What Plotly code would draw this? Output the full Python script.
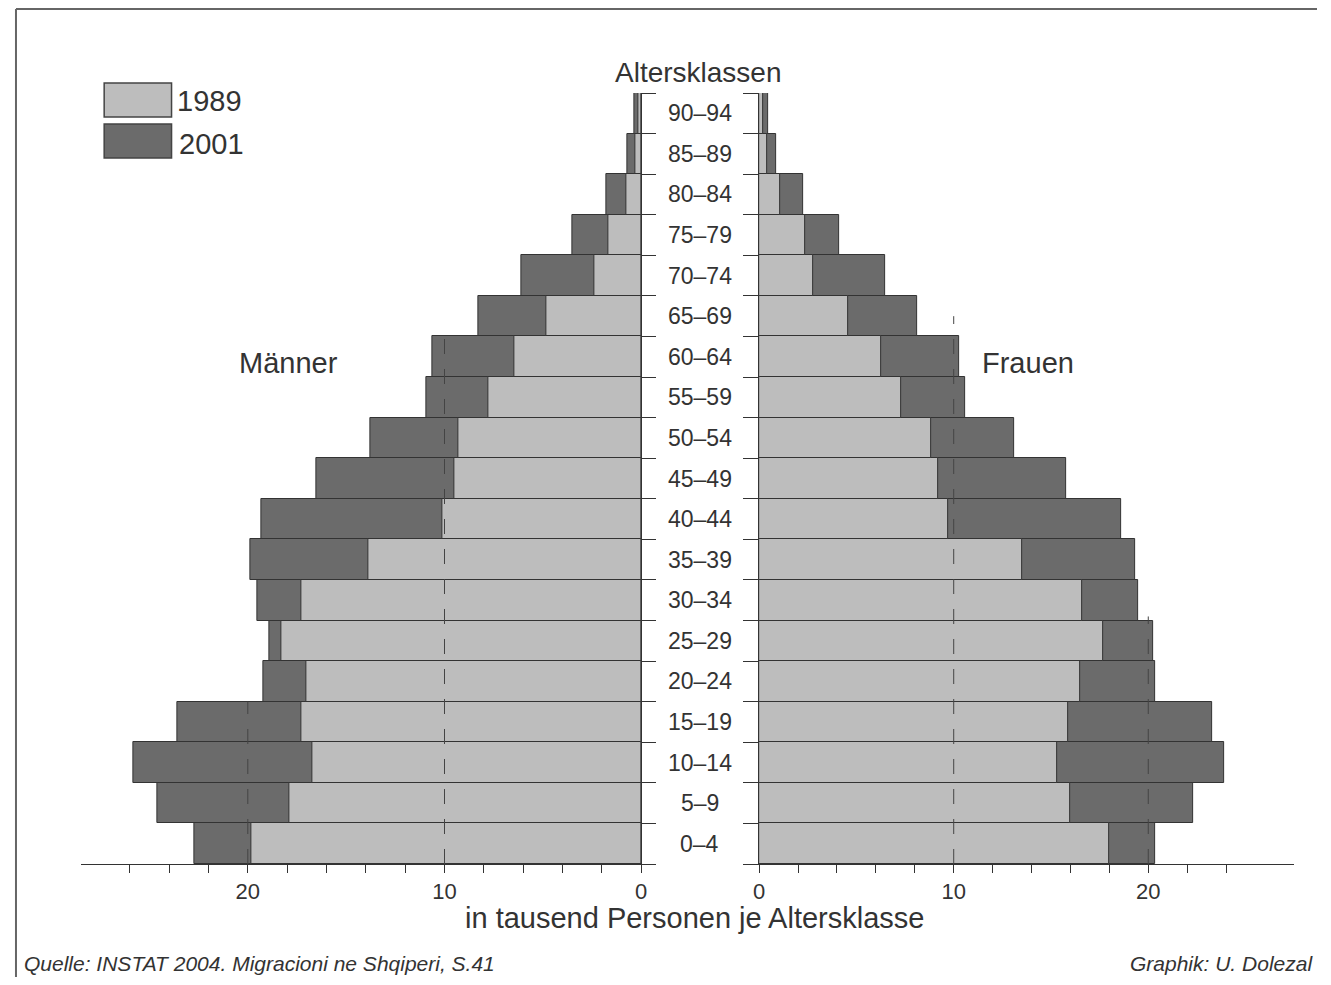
import plotly.graph_objects as go

# page is 1331x985, browser body has an 8px margin -> figure is 16px smaller
PAGE_W, PAGE_H = 1331, 985
OFF = 8
W, H = PAGE_W - 2 * OFF, PAGE_H - 2 * OFF

age_groups = ["0–4", "5–9", "10–14", "15–19", "20–24", "25–29", "30–34", "35–39",
              "40–44", "45–49", "50–54", "55–59", "60–64", "65–69", "70–74",
              "75–79", "80–84", "85–89", "90–94"]

male_2001 = [22.7, 24.6, 25.8, 23.6, 19.2, 18.9, 19.5, 19.85, 19.3, 16.5, 13.75,
             10.9, 10.6, 8.3, 6.1, 3.5, 1.76, 0.7, 0.35]
male_1989 = [19.8, 17.9, 16.7, 17.3, 17.0, 18.3, 17.3, 13.85, 10.1, 9.5, 9.27,
             7.75, 6.45, 4.8, 2.37, 1.66, 0.75, 0.3, 0.15]
female_2001 = [20.35, 22.3, 23.9, 23.3, 20.35, 20.25, 19.5, 19.3, 18.6, 15.8, 13.1,
               10.6, 10.3, 8.1, 6.46, 4.1, 2.24, 0.87, 0.45]
female_1989 = [18.0, 16.0, 15.3, 15.9, 16.5, 17.66, 16.6, 13.5, 9.7, 9.2, 8.85,
               7.28, 6.26, 4.58, 2.75, 2.34, 1.1, 0.4, 0.2]

left_ticks = list(range(0, 27, 2))
right_ticks = list(range(0, 25, 2))
labeled_ticks = [0, 10, 20]

LIGHT = "#bdbdbd"
DARK = "#6b6b6b"
LINE = "#333333"
TXT = "#333333"
FONT = "Liberation Sans, Arial, sans-serif"

def px(x):
    return (x - OFF) / W

def py(y):
    return 1 - (y - OFF) / H

ypos = list(range(len(age_groups)))

fig = go.Figure()
fig.add_trace(go.Bar(x=male_2001, y=ypos, orientation="h", xaxis="x", yaxis="y",
                     marker=dict(color=DARK, line=dict(color=LINE, width=1)),
                     width=1, name="2001", showlegend=False))
fig.add_trace(go.Bar(x=male_1989, y=ypos, orientation="h", xaxis="x", yaxis="y",
                     marker=dict(color=LIGHT, line=dict(color=LINE, width=1)),
                     width=1, name="1989", showlegend=False))
fig.add_trace(go.Bar(x=female_2001, y=ypos, orientation="h", xaxis="x2", yaxis="y2",
                     marker=dict(color=DARK, line=dict(color=LINE, width=1)),
                     width=1, name="2001", showlegend=False))
fig.add_trace(go.Bar(x=female_1989, y=ypos, orientation="h", xaxis="x2", yaxis="y2",
                     marker=dict(color=LIGHT, line=dict(color=LINE, width=1)),
                     width=1, name="1989", showlegend=False))

ydom = [py(864), py(93)]
yrange = [-0.5, len(age_groups) - 0.5]
bounds = [i - 0.5 for i in range(len(age_groups) + 1)]

axis_common = dict(showgrid=False, zeroline=False, showline=True, linecolor=LINE,
                   linewidth=1, ticks="outside", ticklen=8, tickcolor=LINE,
                   tickfont=dict(family=FONT, size=22, color=TXT), fixedrange=True)

fig.update_layout(
    width=W, height=H,
    margin=dict(l=0, r=0, t=0, b=0),
    paper_bgcolor="white", plot_bgcolor="rgba(0,0,0,0)",
    barmode="overlay", bargap=0,
    xaxis=dict(domain=[px(76), px(641)], range=[28.46, 0], anchor="y",
               tickvals=left_ticks,
               ticktext=[str(t) if t in labeled_ticks else "" for t in left_ticks],
               **axis_common),
    xaxis2=dict(domain=[px(760), px(1300)], range=[0, 27.5], anchor="y2",
                tickvals=right_ticks,
                ticktext=[str(t) if t in labeled_ticks else "" for t in right_ticks],
                **axis_common),
    yaxis=dict(domain=ydom, range=yrange, anchor="x", side="right",
               showgrid=False, zeroline=False, showline=True, linecolor=LINE,
               tickvals=bounds, ticks="outside", ticklen=14, tickcolor=LINE,
               showticklabels=False, fixedrange=True),
    yaxis2=dict(domain=ydom, range=yrange, anchor="x2", side="left",
                showgrid=False, zeroline=False, showline=True, linecolor=LINE,
                tickvals=bounds, ticks="outside", ticklen=15, tickcolor=LINE,
                showticklabels=False, fixedrange=True),
)

shapes = []
# dashed reference lines drawn over the bars
for xr, yr, xv, ytop in [("x", "y", 10, 12.8), ("x", "y", 20, 3.5),
                         ("x2", "y2", 10, 13.0), ("x2", "y2", 20, 5.6)]:
    shapes.append(dict(type="line", xref=xr, yref=yr, x0=xv, x1=xv, y0=-0.5, y1=ytop,
                       line=dict(color="#444444", width=1, dash="longdash"),
                       layer="above"))
# frame (top and left visible)
shapes.append(dict(type="line", xref="paper", yref="paper", x0=px(10), x1=1,
                   y0=py(9), y1=py(9), line=dict(color="#666666", width=2)))
shapes.append(dict(type="line", xref="paper", yref="paper", x0=px(10), x1=px(10),
                   y0=py(9), y1=0, line=dict(color="#666666", width=2)))
# legend boxes
shapes.append(dict(type="rect", xref="paper", yref="paper", x0=px(99), x1=px(167),
                   y0=py(117), y1=py(83), fillcolor=LIGHT,
                   line=dict(color="#444444", width=1.5)))
shapes.append(dict(type="rect", xref="paper", yref="paper", x0=px(99), x1=px(167),
                   y0=py(158), y1=py(124), fillcolor=DARK,
                   line=dict(color="#444444", width=1.5)))

annotations = []
for i, lab in enumerate(age_groups):
    annotations.append(dict(text=lab, x=px(700), y=i, xref="paper", yref="y",
                            showarrow=False, xanchor="center", yanchor="middle",
                            font=dict(family=FONT, size=23, color=TXT)))

def txt(text, x, y, size, anchor="center", italic=False, yanchor="middle"):
    annotations.append(dict(text=f"<i>{text}</i>" if italic else text,
                            x=px(x), y=py(y), xref="paper", yref="paper",
                            showarrow=False, xanchor=anchor, yanchor=yanchor,
                            borderpad=0,
                            font=dict(family=FONT, size=size, color=TXT)))

txt("Altersklassen", 699, 73, 28)
txt("Männer", 285, 363, 29)
txt("Frauen", 1031, 363, 29)
txt("1989", 171, 101, 29, anchor="left")
txt("2001", 174, 144, 29, anchor="left")
txt("in tausend Personen je Altersklasse", 695, 918, 29)
txt("Quelle: INSTAT 2004. Migracioni ne Shqiperi, S.41", 17, 976, 21,
    anchor="left", italic=True, yanchor="bottom")
txt("Graphik: U. Dolezal", 1320, 976, 21, anchor="right", italic=True,
    yanchor="bottom")

fig.update_layout(shapes=shapes, annotations=annotations)

fig.write_html("out.html")
